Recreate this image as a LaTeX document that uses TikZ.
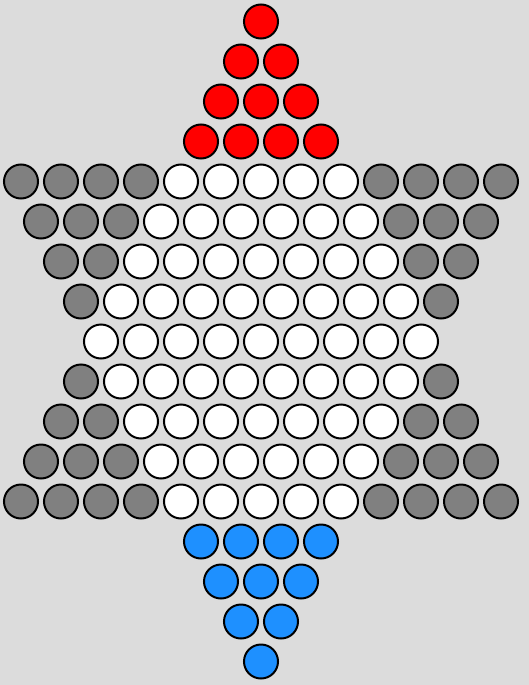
\documentclass[tikz,border=0pt]{standalone}
\definecolor{bgc}{HTML}{DCDCDC}
\definecolor{grayp}{HTML}{808080}
\definecolor{bluep}{HTML}{1E90FF}
\definecolor{redp}{HTML}{FF0000}
\begin{document}
\begin{tikzpicture}[x=1pt,y=-1pt,
  hole/.style={circle,draw=black,line width=2pt,minimum size=34pt,inner sep=0pt},
  redhole/.style={hole,fill=redp},
  bluehole/.style={hole,fill=bluep},
  grayhole/.style={hole,fill=grayp},
  whitehole/.style={hole,fill=white}]
\fill[bgc] (0,0) rectangle (529,685);
\useasboundingbox (0,0) rectangle (529,685);
% top red triangle
\foreach \r in {0,...,3}{
  \foreach \i in {0,...,\r}{
    \node[redhole] (t\r-\i) at ({261-20*\r+40*\i},{21.5+40*\r}) {};
  }
}
% middle star body
\foreach \r in {4,...,12}{
  \pgfmathtruncatemacro\g{abs(\r-8)}
  \pgfmathtruncatemacro\last{8+\g}
  \foreach \i in {0,...,\last}{
    \pgfmathtruncatemacro\isgray{or(\i<\g,\i>\last-\g)}
    \ifnum\isgray=1
      \node[grayhole] (m\r-\i) at ({21+20*(4-\g)+40*\i},{21.5+40*\r}) {};
    \else
      \node[whitehole] (m\r-\i) at ({21+20*(4-\g)+40*\i},{21.5+40*\r}) {};
    \fi
  }
}
% bottom blue triangle
\foreach \r in {13,...,16}{
  \pgfmathtruncatemacro\last{16-\r}
  \foreach \i in {0,...,\last}{
    \node[bluehole] (b\r-\i) at ({261-20*(16-\r)+40*\i},{21.5+40*\r}) {};
  }
}
\end{tikzpicture}
\end{document}
